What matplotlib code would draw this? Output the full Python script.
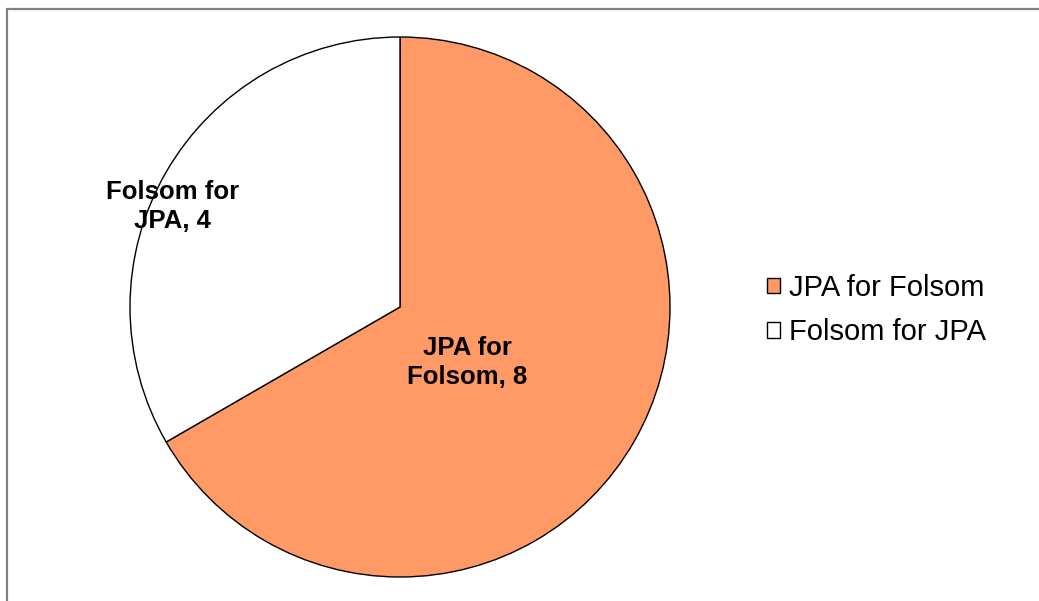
import matplotlib
matplotlib.use("Agg")
import matplotlib.pyplot as plt
from matplotlib.patches import Rectangle

categories = ["JPA for Folsom", "Folsom for JPA"]
values = [8, 4]
colors = ["#FF9966", "#FFFFFF"]

plt.rcParams['font.family'] = ['Liberation Sans', 'DejaVu Sans']

W, H = 1039, 601
fig = plt.figure(figsize=(W / 100, H / 100), dpi=100)

cx, cy, r = 400, 307, 270
ax = fig.add_axes([(cx - r) / W, (H - cy - r) / H, 2 * r / W, 2 * r / H])
wedges, _ = ax.pie(values, colors=colors, startangle=90, counterclock=False,
                   radius=1.0, wedgeprops=dict(edgecolor="black", linewidth=1.0))
ax.set_xlim(-1, 1)
ax.set_ylim(-1, 1)
ax.set_aspect("equal")
ax.axis("off")

label_pos = [(0.248, -0.205), (-0.841, 0.372)]
label_txt = ["JPA for\nFolsom, " + str(values[0]), "Folsom for\nJPA, " + str(values[1])]
for (x, y), t in zip(label_pos, label_txt):
    ax.text(x, y, t, ha="center", va="center", fontsize=18.5, fontweight="bold",
            linespacing=1.27)

leg = fig.legend(wedges, categories, loc="center left",
                 bbox_to_anchor=(741 / W, 1 - 310 / H), frameon=False,
                 fontsize=21, handlelength=0.42, handleheight=0.42,
                 handletextpad=0.34, labelspacing=0.58, borderpad=0.4)

fig.patches.append(Rectangle((7 / W, -0.02), 1.1, 1 - 9 / H + 0.02,
                             transform=fig.transFigure, fill=False,
                             edgecolor="#808080", linewidth=1.6))

fig.savefig("out.png", dpi=100)
